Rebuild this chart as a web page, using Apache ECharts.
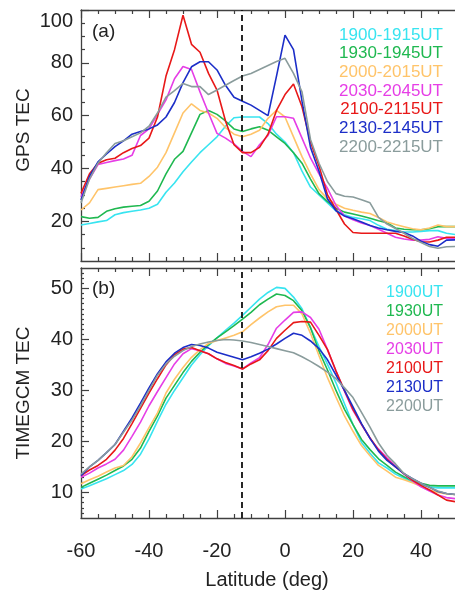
<!DOCTYPE html>
<html><head><meta charset="utf-8">
<script src="https://cdn.jsdelivr.net/npm/echarts@6/dist/echarts.min.js"></script>
<style>html,body{margin:0;padding:0;background:#fff}#c{width:455px;height:593px}</style>
</head><body><div id="c"></div><script>
const FONT = '"Liberation Sans", Arial, Helvetica, sans-serif';
const latitudes = [-60,-57.5,-55,-52.5,-50,-47.5,-45,-42.5,-40,-37.5,-35,-32.5,-30,-27.5,-25,-22.5,-20,-17.5,-15,-12.5,-10,-7.5,-5,-2.5,0,2.5,5,7.5,10,12.5,15,17.5,20,22.5,25,27.5,30,32.5,35,37.5,40,42.5,45,47.5,50];

const gpsNames = ['1900-1915UT','1930-1945UT','2000-2015UT','2030-2045UT','2100-2115UT','2130-2145UT','2200-2215UT'];
const tgNames = ['1900UT','1930UT','2000UT','2030UT','2100UT','2130UT','2200UT'];
const colors = ['#38e4f0','#1fb850','#ffc46a','#e63ee6','#e81818','#1c2ec8','#8a9c9c'];

const gps1900 = [18.6,19.2,19.8,20.3,22.5,23.3,23.8,24.3,25,26.5,31,34.5,38.8,42.5,46,49,52,56,59.2,59.5,59.5,59.5,57,53,50,46,39,33,30,27,24,22.5,21.5,21,20.3,18.5,17,16.5,16,16,16.2,16.5,16.5,15.5,15];
const gps1930 = [21.8,21.2,21.5,23.8,24.8,25.4,25.7,26,27.6,31.5,38,43.5,46.5,53.5,60.5,62,60.5,58,55,54,55,55.8,54.5,52,49.5,46,42,36,30.5,27.5,25,23.5,22.8,22,21.2,20.2,19.5,17.5,17,16.8,16.8,17.2,18,18,18];
const gps2000 = [24.3,27,32,32.5,33,33.5,34,34.4,37,40.5,46,53.5,61,64.5,62,61,59,55.5,53,52,53,54.5,59,62,59.5,52,44.5,38,32,28.5,26.5,25,24.2,23.5,23,21.5,19.8,18.8,18,17.2,16.8,17.5,18.6,18,18];
const gps2030 = [29.3,36,41.5,42.3,43,43.6,45,52.5,55,60.5,66,74,78.6,77.5,69,61,53.3,51.5,49.3,46.5,44.5,49,52.5,59.6,59.6,59,51.5,44,38,32.5,26,22,20.6,19.4,18.4,17,15.5,14,13.3,12.9,12.9,13.2,14.2,13.6,13.5];
const gps2100 = [30.6,38,42,43.3,43.9,46,47.6,48.7,51.5,59.5,75,85,98,87,84,76,69.7,58,49,46,46,48,53,62,68,72,63.4,50,41,30,24.5,19,15.8,15.5,15.5,15.5,15.5,15.5,14.5,13.2,12.3,12.2,12.9,14,14];
const gps2130 = [28.1,37,42.5,45.5,48.3,50.5,53,54,55,56.5,59.5,65,72.5,78.5,80.4,80.4,77.3,71.5,67,65.5,64,62,60,75,90.5,85,65.5,48,39,28.5,24,22,21,19.8,18.4,17.5,16.8,16.2,15.8,14.5,12.5,11.2,10.6,12.9,13];
const gps2200 = [27,36,42,46,49.5,50.5,52,53.5,56,61,67,69.5,72.2,71,71,68,69.7,71.5,73.3,75,76,77.5,79,80.5,81.7,76,69,51,42,35,30.5,29.5,29.2,28.2,27,21.5,19,17.3,15.5,13.5,12,10.5,9.8,10.4,10.5];

const tg1900 = [10.7,11.3,12.0,12.7,13.5,14.3,15.5,17.5,20.5,24.0,27.3,30.0,32.5,35.0,37.0,38.8,40.3,41.8,43.2,44.7,46.3,47.9,49.2,50.2,50.0,48.3,46.0,42.3,38.6,35.1,31.5,27.4,23.3,19.8,17.7,15.8,14.8,13.6,12.8,12.0,11.5,11.1,10.9,10.9,10.9];
const tg1930 = [11.0,11.8,12.6,13.4,14.3,15.2,16.5,18.7,22.0,25.0,28.5,31.0,33.5,35.7,37.5,39.0,40.3,41.5,42.7,44.0,45.3,46.8,47.9,48.9,48.6,47.6,45.6,42.3,37.7,34.0,30.0,26.3,23.3,20.4,18.4,16.6,15.3,14.0,13.1,12.3,11.8,11.4,11.3,11.3,11.3];
const tg2000 = [11.7,12.5,13.2,14.0,14.8,15.3,17.0,19.7,22.7,25.6,29.5,32.2,34.5,36.5,38.0,39.2,39.8,40.3,40.8,41.5,42.9,44.2,45.4,46.4,46.7,46.7,45.0,41.2,36.8,32.5,28.7,25.0,22.0,19.2,17.2,15.3,14.2,13.0,12.5,11.9,11.2,10.5,10.0,9.7,9.6];
const tg2030 = [13.0,13.8,14.8,15.6,16.5,18.3,21.0,23.8,27.0,29.8,32.5,35.2,37.2,38.2,37.8,37.2,36.2,35.3,34.8,34.2,35.4,36.4,39.0,42.2,43.8,45.3,45.4,44.3,42.0,38.0,33.8,29.8,26.1,23.3,20.6,18.5,16.8,15.2,13.6,12.3,11.1,10.3,9.5,9.0,8.8];
const tg2100 = [13.3,14.4,15.3,16.5,18.3,20.6,23.5,26.5,29.5,32.3,35.0,37.0,38.1,38.4,37.8,37.2,36.2,35.5,34.9,34.2,35.2,36.0,37.8,40.2,41.8,43.3,43.5,43.4,40.8,38.0,33.8,30.0,26.3,23.4,20.7,18.3,16.5,15.0,13.7,12.4,11.4,10.5,9.5,8.5,8.2];
const tg2130 = [13.3,15.0,16.3,17.8,19.4,22.0,24.6,27.5,30.5,33.3,35.6,37.3,38.4,39.0,38.8,38.3,37.5,37.0,36.5,36.0,36.6,37.3,38.1,39.1,40.2,41.2,40.8,39.7,38.2,36.0,33.0,30.0,26.8,23.5,20.6,18.1,16.3,15.0,13.7,12.7,11.8,11.0,10.2,9.8,9.6];
const tg2200 = [13.6,15.0,16.3,17.8,19.4,21.8,24.2,27.0,30.0,33.0,35.2,36.7,37.8,38.6,39.1,39.5,39.8,40.0,39.9,39.7,39.4,39.0,38.6,38.2,37.8,37.4,36.6,35.7,34.7,33.6,32.3,30.5,28.6,25.7,22.8,19.7,17.3,15.6,13.7,12.7,11.8,11.0,10.3,9.8,9.6];

const gpsValues = [gps1900,gps1930,gps2000,gps2030,gps2100,gps2130,gps2200];
const tgValues = [tg1900,tg1930,tg2000,tg2030,tg2100,tg2130,tg2200];

const xMajorTicks = [-60,-40,-20,0,20,40];
const xMinorTicks = [-55,-50,-45,-35,-30,-25,-15,-10,-5,5,10,15,25,30,35,45];
const gpsYMajor = [20,40,60,80,100];
const gpsYMinor = [10,15,25,30,35,45,50,55,65,70,75,85,90,95];
const tgYMajor = [10,20,30,40,50];
const tgYMinor = [];
for (let v = 6; v <= 53; v++) if (v % 10 !== 0) tgYMinor.push(v);
const dashedLatitude = -12.8;
const xRange = [-60, 50];
const gpsRange = [5, 100];
const tgRange = [5, 54];

const AX = '#404040';
const tickStyle = {color: AX, width: 1.2};
function xAxes(g, labels) {
  const base = {gridIndex: g, type: 'value', min: xRange[0], max: xRange[1], splitLine: {show: false}};
  const line = {show: true, onZero: false, lineStyle: {color: AX, width: 1.3}};
  return [
    Object.assign({}, base, {position: 'bottom', axisLine: line,
      axisTick: {show: true, inside: true, length: 8, customValues: xMajorTicks, lineStyle: tickStyle},
      axisLabel: {show: labels, customValues: xMajorTicks, margin: 23, fontSize: 20, color: '#222', fontFamily: FONT}}),
    Object.assign({}, base, {position: 'bottom', axisLine: {show: false, onZero: false},
      axisTick: {show: true, inside: true, length: 4, customValues: xMinorTicks, lineStyle: tickStyle}, axisLabel: {show: false}}),
    Object.assign({}, base, {position: 'top', axisLine: line,
      axisTick: {show: true, inside: true, length: 8, customValues: xMajorTicks, lineStyle: tickStyle}, axisLabel: {show: false}}),
    Object.assign({}, base, {position: 'top', axisLine: {show: false, onZero: false},
      axisTick: {show: true, inside: true, length: 4, customValues: xMinorTicks, lineStyle: tickStyle}, axisLabel: {show: false}})
  ];
}
function yAxes(g, range, major, minor, minorLen) {
  const base = {gridIndex: g, type: 'value', min: range[0], max: range[1], position: 'left', splitLine: {show: false}};
  return [
    Object.assign({}, base, {axisLine: {show: true, onZero: false, lineStyle: {color: AX, width: 1.3}},
      axisTick: {show: true, inside: true, length: 8, customValues: major, lineStyle: tickStyle},
      axisLabel: {customValues: major, margin: 8, fontSize: 20, color: '#222', fontFamily: FONT,
        formatter: v => v === range[1] ? '{top|' + v + '}' : String(v),
        rich: {top: {fontSize: 20, color: '#222', fontFamily: FONT, padding: [22, 0, 0, 0]}}}}),
    Object.assign({}, base, {axisLine: {show: false, onZero: false},
      axisTick: {show: true, inside: true, length: minorLen, customValues: minor, lineStyle: tickStyle}, axisLabel: {show: false}})
  ];
}

const dashMark = {symbol: ['none','none'], silent: true, animation: false, label: {show: false},
  lineStyle: {color: '#111', width: 1.8, type: [6, 4]}, data: [{xAxis: dashedLatitude}]};

const series = [];
gpsValues.forEach((vals, i) => series.push({
  type: 'line', name: gpsNames[i], xAxisIndex: 0, yAxisIndex: 0, symbol: 'none', animation: false,
  lineStyle: {color: colors[i], width: 1.6}, itemStyle: {color: colors[i]},
  data: latitudes.map((x, j) => [x, vals[j]]), markLine: i === 0 ? dashMark : undefined
}));
tgValues.forEach((vals, i) => series.push({
  type: 'line', name: tgNames[i], xAxisIndex: 4, yAxisIndex: 2, symbol: 'none', animation: false,
  lineStyle: {color: colors[i], width: 1.6}, itemStyle: {color: colors[i]},
  data: latitudes.map((x, j) => [x, vals[j]]), markLine: i === 0 ? dashMark : undefined
}));

const graphic = [];
function txt(x, y, text, size, color, align, rot) {
  graphic.push({type: 'text', x: x, y: y, rotation: rot || 0, z: 100,
    style: {text: text, fill: color, font: size + 'px ' + FONT, align: align, verticalAlign: 'middle',
      textAlign: align, textVerticalAlign: 'middle'}});
}
gpsNames.forEach((n, i) => txt(443, 35 + i * 18.7, n, 17, colors[i], 'right'));
tgNames.forEach((n, i) => txt(443, 293 + i * 19, n, 16, colors[i], 'right'));
txt(92, 31.5, '(a)', 19, '#222', 'left');
txt(92, 289, '(b)', 19, '#222', 'left');
txt(24, 130, 'GPS TEC', 19, '#222', 'center', Math.PI / 2);
txt(24, 393, 'TIMEGCM TEC', 19, '#222', 'center', Math.PI / 2);
txt(267, 580, 'Latitude (deg)', 20, '#222', 'center');

const chart = echarts.init(document.getElementById('c'), null, {renderer: 'canvas'});
chart.setOption({
  animation: false,
  backgroundColor: '#fff',
  grid: [
    {left: 81, top: 10, width: 382.8, height: 251},
    {left: 81, top: 268, width: 382.8, height: 250}
  ],
  xAxis: xAxes(0, false).concat(xAxes(1, true)),
  yAxis: yAxes(0, gpsRange, gpsYMajor, gpsYMinor, 4).concat(yAxes(1, tgRange, tgYMajor, tgYMinor, 3)),
  series: series,
  graphic: graphic
});
</script></body></html>
